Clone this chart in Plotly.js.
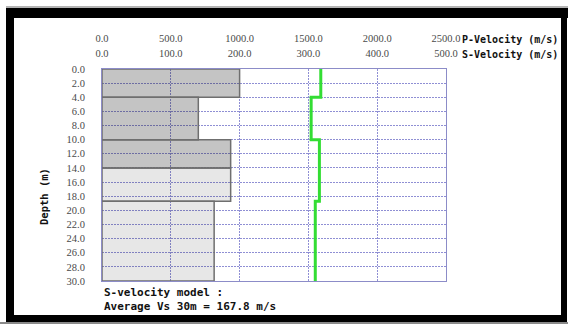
<!DOCTYPE html>
<html>
<head>
<meta charset="utf-8">
<script src="https://cdn.plot.ly/plotly-3.0.1.min.js"></script>
<style>
  html, body { margin: 0; padding: 0; background: #ffffff; width: 568px; height: 324px; overflow: hidden; }
  #plot { position: absolute; left: 0; top: 0; width: 568px; height: 324px; z-index: 1; }
  #frm { position: absolute; left: 0; top: 0; width: 568px; height: 324px; z-index: 10; pointer-events: none; }
</style>
</head>
<body>
<div id="plot"></div>
<svg id="frm" width="568" height="324" xmlns="http://www.w3.org/2000/svg">
  <rect x="6" y="6" width="562" height="2" fill="#b4b4b4"/>
  <rect x="6" y="8" width="562" height="10" fill="#000"/>
  <rect x="6" y="8" width="8" height="314" fill="#000"/>
  <rect x="561" y="8" width="6" height="314" fill="#000"/>
  <rect x="6" y="315" width="561" height="7" fill="#000"/>
  <rect x="0" y="322" width="568" height="2" fill="#8a8a8a"/>
</svg>
<script>
// Layer model (depths in m, velocities in m/s)
const layerTop    = [0, 4, 10, 14, 18.7];
const layerBottom = [4, 10, 14, 18.7, 30];
const sVelocity   = [200, 140, 187, 187, 163];
const pVelocity   = [1590, 1520, 1580, 1580, 1550];
const layerFill   = ['rgba(0,0,0,0.23)', 'rgba(0,0,0,0.23)', 'rgba(0,0,0,0.23)', 'rgba(0,0,0,0.095)', 'rgba(0,0,0,0.095)'];
const depthTicks  = [0, 2, 4, 6, 8, 10, 12, 14, 16, 18, 20, 22, 24, 26, 28, 30];
const sTicks      = [0, 100, 200, 300, 400, 500];
const pTicks      = [0, 500, 1000, 1500, 2000, 2500];
const avgVs30     = '167.8';

const mid = layerTop.map((t, i) => (t + layerBottom[i]) / 2);
const thick = layerTop.map((t, i) => layerBottom[i] - t);

// P-velocity step profile built from layers
const pX = [], pY = [];
layerTop.forEach((t, i) => { pX.push(pVelocity[i], pVelocity[i]); pY.push(t, layerBottom[i]); });

const gridCol = '#8f8fd4';
const frameCol = '#8c8cc8';
const tickFont = { family: 'Liberation Serif, serif', size: 10.5, color: '#4a4a4a' };
const boldMono = { family: 'DejaVu Sans Mono, monospace', size: 10, color: '#111' };

const traces = [
  {
    type: 'bar', orientation: 'h',
    x: sVelocity, y: mid, width: thick, base: 0,
    marker: { color: layerFill, line: { color: '#6f6f6f', width: 1.5 } },
    xaxis: 'x', yaxis: 'y', hoverinfo: 'skip', showlegend: false
  },
  {
    type: 'scatter', mode: 'lines',
    x: pX, y: pY,
    line: { color: '#33dd33', width: 3 },
    xaxis: 'x2', yaxis: 'y', hoverinfo: 'skip', showlegend: false
  }
];

const layout = {
  width: 568, height: 324,
  margin: { l: 102, r: 122, t: 69, b: 43 },
  paper_bgcolor: '#ffffff',
  plot_bgcolor: '#ffffff',
  showlegend: false,
  xaxis: {
    range: [0, 500], side: 'top', anchor: 'y',
    tickvals: sTicks, ticktext: sTicks.map(v => v.toFixed(1)),
    ticks: 'outside', ticklen: 7, tickcolor: 'rgba(0,0,0,0)',
    tickfont: tickFont,
    showgrid: true, gridcolor: gridCol, griddash: '2px,1px', gridwidth: 1,
    showline: true, linecolor: frameCol, linewidth: 1, mirror: true,
    zeroline: false, fixedrange: true
  },
  xaxis2: {
    range: [0, 2500], side: 'top', overlaying: 'x', anchor: 'y',
    tickvals: pTicks, ticktext: pTicks.map(v => v.toFixed(1)),
    ticks: 'outside', ticklen: 22, tickcolor: 'rgba(0,0,0,0)',
    tickfont: tickFont,
    showgrid: false, showline: false, zeroline: false, fixedrange: true
  },
  yaxis: {
    range: [30, 0],
    tickvals: depthTicks, ticktext: depthTicks.map(v => v.toFixed(1)),
    ticks: 'outside', ticklen: 14, tickcolor: 'rgba(0,0,0,0)',
    tickfont: tickFont,
    showgrid: true, gridcolor: gridCol, griddash: '2px,1px', gridwidth: 1,
    showline: true, linecolor: frameCol, linewidth: 1, mirror: true,
    zeroline: false, fixedrange: true
  },
  annotations: [
    { text: '<b>P-Velocity (m/s)</b>', xref: 'paper', yref: 'paper',
      x: 1.04, y: (281 - 40) / 212, xanchor: 'left', yanchor: 'middle',
      showarrow: false, font: boldMono },
    { text: '<b>S-Velocity (m/s)</b>', xref: 'paper', yref: 'paper',
      x: 1.04, y: (281 - 55) / 212, xanchor: 'left', yanchor: 'middle',
      showarrow: false, font: boldMono },
    { text: '<b>Depth (m)</b>', xref: 'paper', yref: 'paper',
      x: (44 - 102) / 344, y: (281 - 197) / 212, xanchor: 'center', yanchor: 'middle',
      textangle: -90, showarrow: false, font: Object.assign({}, boldMono, { size: 10.5 }) },
    { text: '<b>S-velocity model :</b>', xref: 'paper', yref: 'paper',
      x: 0, y: (281 - 292) / 212, xanchor: 'left', yanchor: 'middle',
      showarrow: false, font: Object.assign({}, boldMono, { size: 11 }) },
    { text: '<b>Average Vs 30m = ' + avgVs30 + ' m/s</b>', xref: 'paper', yref: 'paper',
      x: 0, y: (281 - 306) / 212, xanchor: 'left', yanchor: 'middle',
      showarrow: false, font: Object.assign({}, boldMono, { size: 11 }) }
  ]
};

Plotly.newPlot('plot', traces, layout, { staticPlot: true, displayModeBar: false });
</script>
</body>
</html>
